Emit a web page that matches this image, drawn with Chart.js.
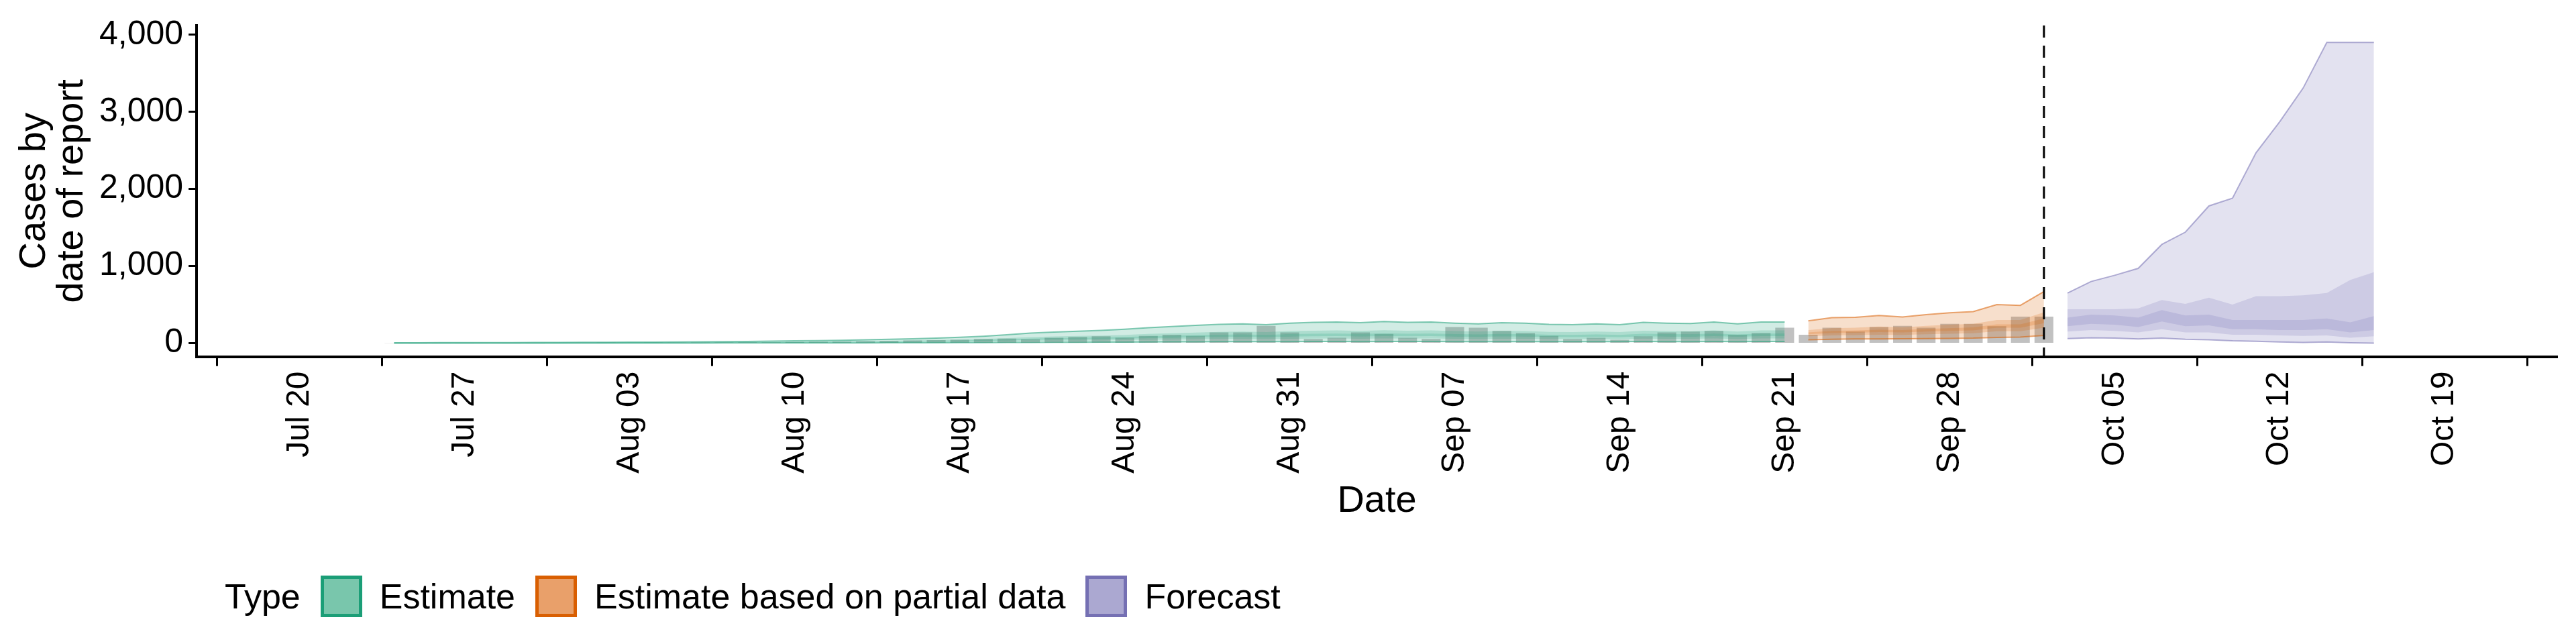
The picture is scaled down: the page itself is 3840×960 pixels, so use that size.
<!DOCTYPE html>
<html>
<head>
<style>
  body { margin: 0; background: #fff; }
  #wrap { position: relative; width: 3840px; height: 960px; }
  #legend { position: absolute; left: 335px; top: 858px; display: flex; align-items: center;
            font-family: "Liberation Sans", Arial, sans-serif; font-size: 52px; color: #000; }
  #legend .sw { width: 62px; height: 62px; box-sizing: border-box; border: 5px solid; margin: 0 26px 0 30px; }
</style>
</head>
<body>
<script src="https://cdn.jsdelivr.net/npm/chart.js"></script>
<div id="wrap">
  <canvas id="myChart" width="3840" height="960"></canvas>
  <div id="legend">
    <span>Type</span>
    <div class="sw" style="background:#79c6ac;border-color:#1b9e77"></div><span>Estimate</span>
    <div class="sw" style="background:#e9a06a;border-color:#d95f02"></div><span>Estimate based on partial data</span>
    <div class="sw" style="background:#aba8d1;border-color:#7570b3"></div><span>Forecast</span>
  </div>
</div>

<script>
// day 0 = Jul 20
const tickDays = [0, 7, 14, 21, 28, 35, 42, 49, 56, 63, 70, 77, 84, 91];
const tickLabels = ['Jul 20','Jul 27','Aug 03','Aug 10','Aug 17','Aug 24','Aug 31','Sep 07','Sep 14','Sep 21','Sep 28','Oct 05','Oct 12','Oct 19'];
const forecastStart = 74; // Oct 02, dashed line

// reported cases, Jul 24 .. Oct 02
const reportStart = 4;
const reported = [2,1,3,2,4,3,2,5,4,6,5,8,7,9,10,12,11,15,18,20,25,28,35,40,45,55,60,50,70,80,
  90,70,95,110,95,140,140,225,140,55,70,140,120,70,55,210,200,160,130,95,55,70,45,90,140,150,160,110,130,200,
  110,200,150,210,225,200,250,250,220,345,345];

// Estimate, Jul 24 .. Sep 21
const estStart = 4;
const estU90 = [5,5,6,6,7,8,9,10, 11,12,13,14,16,18,20,23,26,30, 34,38,43,50,58,66,76,90,110,130,
  145,155,165,180,200,215,230,245,250,240,260, 270,275,265,280,270,275,260,250,265,260,
  245,240,250,240,270,260,255,275,250,275,275];
const estU50 = [3,3,4,4,4,5,5,6, 7,7,8,8,10,11,12,14,16,18, 20,23,26,30,35,40,46,54,66,78,
  87,93,99,108,120,129,138,147,150,144,156, 162,165,159,168,162,165,156,150,159,156,
  147,144,150,144,162,156,153,165,150,165,165];
const estU20 = [2,2,3,3,3,4,4,5, 5,5,6,6,7,8,9,10,12,14, 15,17,19,23,26,30,34,41,50,59,
  65,70,74,81,90,97,104,110,113,108,117, 122,124,119,126,122,124,117,113,119,117,
  110,108,113,108,122,117,115,124,113,124,124];
const estL20 = [2,2,2,2,2,3,3,3, 4,4,4,5,5,6,7,8,9,10, 11,13,14,17,19,22,25,30,36,43,
  48,51,54,59,66,71,76,81,83,79,86, 89,91,87,92,89,91,86,83,87,86,
  81,79,83,79,89,86,84,91,83,91,91];
const estL50 = [1,1,1,1,2,2,2,2, 2,3,3,3,4,4,4,5,6,7, 7,8,9,11,13,15,17,20,24,29,
  32,34,36,40,44,47,51,54,55,53,57, 59,61,58,62,59,61,57,55,58,57,
  54,53,55,53,59,57,56,61,55,61,61];
const estL90 = [0,0,0,0,1,1,1,1, 1,1,1,1,1,1,2,2,2,3, 3,3,3,4,5,5,6,7,9,10,
  12,12,13,14,16,17,18,20,20,19,21, 22,22,21,22,22,22,21,20,21,21,
  20,19,20,19,22,21,20,22,20,22,22];

// Estimate based on partial data, Sep 22 .. Oct 02
const partStart = 64;
const partU90 = [290,330,335,360,340,370,395,410,500,490,670];
const partU50 = [170,195,200,215,205,225,240,250,300,300,400];
const partU20 = [140,160,165,175,170,185,195,205,245,245,320];
const partL20 = [115,130,135,145,140,150,160,165,200,200,260];
const partL50 = [90,100,105,110,108,115,122,128,155,155,200];
const partL90 = [45,50,55,55,57,60,62,65,75,78,100];

// Forecast, Oct 03 .. Oct 16
const fcStart = 75;
const fcU90 = [650,800,880,970,1280,1440,1780,1880,2470,2870,3310,3900,3900,3900];
const fcU50 = [440,440,440,450,560,510,590,500,610,610,620,650,820,920];
const fcU20 = [330,370,360,330,430,360,370,300,300,300,300,320,270,350];
const fcL20 = [220,250,240,210,280,220,230,180,180,170,170,180,140,170];
const fcL50 = [150,170,160,140,180,140,140,110,110,100,95,100,70,90];
const fcL90 = [60,70,65,55,65,50,45,30,25,15,10,15,5,0];

function pts(start, arr) {
  return arr.map((v, i) => ({ x: start + i, y: v }));
}

const datasets = [{
  type: 'bar',
  data: pts(reportStart, reported),
  backgroundColor: 'rgba(160,160,160,0.65)',
  barPercentage: 1,
  categoryPercentage: 0.8,
  order: 10
}];

function addBands(start, bands, rgb) {
  // bands: [[lower, upper], ...]
  bands.forEach((b, k) => {
    const lowIdx = datasets.length;
    const edge = k === 0 ? 'rgba(' + rgb + ',0.55)' : 'rgba(0,0,0,0)';
    datasets.push({
      type: 'line', data: pts(start, b[0]), borderColor: edge, borderWidth: 2,
      pointRadius: 0, fill: false, tension: 0, order: 1
    });
    datasets.push({
      type: 'line', data: pts(start, b[1]), borderColor: edge, borderWidth: 2,
      pointRadius: 0, fill: { target: lowIdx }, backgroundColor: 'rgba(' + rgb + ',0.2)',
      tension: 0, order: 1
    });
  });
}
addBands(estStart, [[estL90, estU90], [estL50, estU50], [estL20, estU20]], '27,158,119');
addBands(partStart, [[partL90, partU90], [partL50, partU50], [partL20, partU20]], '217,95,2');
addBands(fcStart, [[fcL90, fcU90], [fcL50, fcU50], [fcL20, fcU20]], '117,112,179');

const dashLine = {
  id: 'dashLine',
  afterDatasetsDraw(chart) {
    const ctx = chart.ctx;
    const x = chart.scales.x.getPixelForValue(forecastStart);
    ctx.save();
    ctx.strokeStyle = '#000';
    ctx.lineWidth = 3;
    ctx.setLineDash([18, 12]);
    ctx.beginPath();
    ctx.moveTo(x, chart.chartArea.top);
    ctx.lineTo(x, chart.chartArea.bottom);
    ctx.stroke();
    ctx.restore();
  }
};

const axisFont = { family: '"Liberation Sans", Arial, sans-serif', size: 48 };

new Chart(document.getElementById('myChart'), {
  data: { datasets: datasets },
  plugins: [dashLine],
  options: {
    responsive: false,
    animation: false,
    layout: { padding: { left: 20, right: 28, top: 28, bottom: 175 } },
    plugins: { legend: { display: false }, tooltip: { enabled: false } },
    scales: {
      x: {
        type: 'linear', min: -0.8, max: 92.2,
        afterBuildTicks: s => { s.ticks = tickDays.map(v => ({ value: v })); },
        ticks: {
          color: '#000', font: axisFont, maxRotation: 90, minRotation: 90, autoSkip: false, padding: 8,
          callback: v => tickLabels[tickDays.indexOf(v)]
        },
        grid: { display: true, drawOnChartArea: false, drawTicks: true, tickLength: 14, tickWidth: 3, tickColor: '#000' },
        border: { color: '#000', width: 4 },
        title: { display: true, text: 'Date', color: '#000', font: { family: axisFont.family, size: 56 }, padding: { top: 0 } }
      },
      y: {
        min: -175, max: 4120,
        afterBuildTicks: s => { s.ticks = [0, 1000, 2000, 3000, 4000].map(v => ({ value: v })); },
        ticks: {
          color: '#000', padding: 8,
          font: { family: '"Liberation Sans Narrow", "Liberation Sans", Arial, sans-serif', size: 50 },
          callback: v => v.toLocaleString('en-US')
        },
        grid: { display: true, drawOnChartArea: false, drawTicks: true, tickLength: 12, tickWidth: 3, tickColor: '#000' },
        border: { color: '#000', width: 4 },
        title: { display: true, text: ['Cases by', 'date of report'], color: '#000', font: { family: axisFont.family, size: 56, lineHeight: 1.0 } }
      }
    }
  }
});
</script>
</body>
</html>
